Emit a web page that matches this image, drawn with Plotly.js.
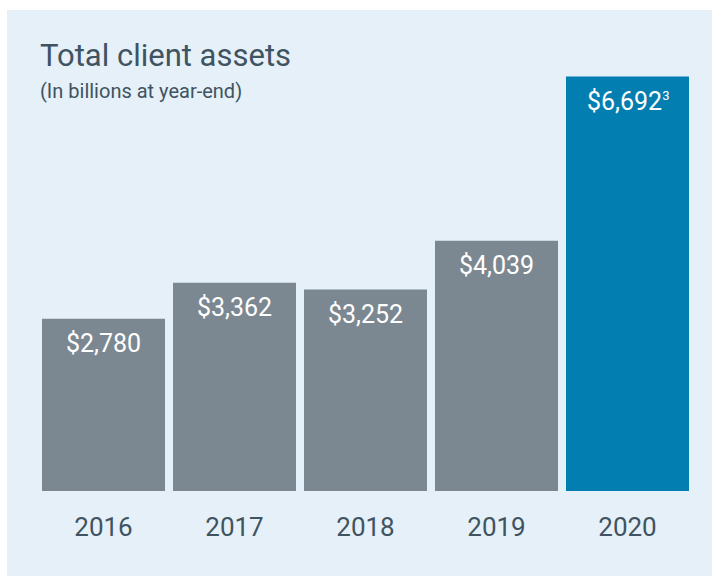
<!DOCTYPE html>
<html>
<head>
<meta charset="utf-8">
<script src="https://cdn.plot.ly/plotly-3.0.1.min.js"></script>
<style>
  body { margin: 0; background: #fff; }
  #chart { position: absolute; left: 7px; top: 10px; width: 705px; height: 566px; }
</style>
</head>
<body>
<div id="chart"></div>
<script>
// data
var years = ["2016", "2017", "2018", "2019", "2020"];
var assets = [2780, 3362, 3252, 4039, 6692];
var labels = ["$2,780", "$3,362", "$3,252", "$4,039", "$6,692<sup><span style='font-size:13px'>3</span></sup>"];
var colors = ["#7c8891", "#7c8891", "#7c8891", "#7c8891", "#027eb0"];

var data = [{
    x: years,
    y: assets,
    type: "bar",
    marker: { color: colors },
    hoverinfo: "none"
}];

// value labels inside the top of each bar
var notes = years.map(function (yr, i) {
    return {
        x: yr, y: assets[i],
        text: labels[i],
        showarrow: false,
        yanchor: "top",
        yshift: -8,
        font: { family: "Roboto, 'Liberation Sans', sans-serif", size: 25, color: "#fff" }
    };
});

notes.push({
    xref: "paper", yref: "paper",
    x: 0, y: 1.05, xanchor: "left", yanchor: "middle",
    text: "Total client assets",
    showarrow: false,
    font: { family: "Roboto, sans-serif", size: 31, color: "#405361" }
});
notes.push({
    xref: "paper", yref: "paper",
    x: 0, y: 0.964, xanchor: "left", yanchor: "middle",
    text: "(In billions at year-end)",
    showarrow: false,
    font: { family: "Roboto, sans-serif", size: 20, color: "#405361" }
});

var layout = {
    width: 705,
    height: 566,
    paper_bgcolor: "#e5f0f8",
    plot_bgcolor: "#e5f0f8",
    margin: { l: 31, r: 19, t: 66, b: 85 },
    bargap: 0.061,
    showlegend: false,
    xaxis: {
        showgrid: false, zeroline: false, showline: false,
        ticks: "",
        ticklabelstandoff: 18,
        tickfont: { family: "Roboto, sans-serif", size: 26, color: "#405361" }
    },
    yaxis: {
        range: [0, 6700],
        visible: false
    },
    annotations: notes
};

Plotly.newPlot("chart", data, layout, { displayModeBar: false, staticPlot: true });
</script>
</body>
</html>
